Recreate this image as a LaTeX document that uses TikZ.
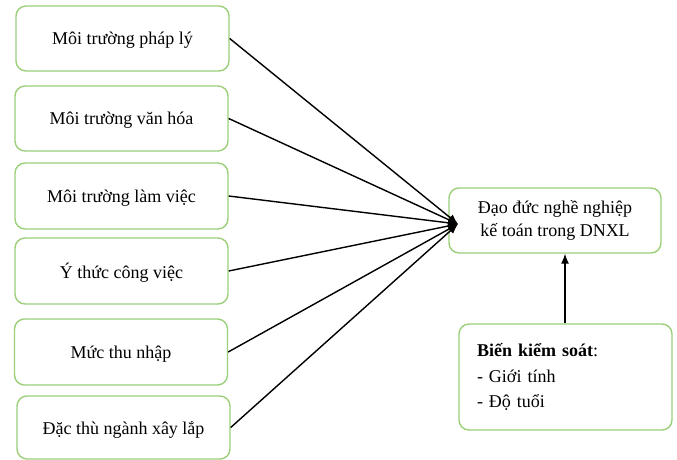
\documentclass[tikz,border=0pt]{standalone}
\usepackage{fontspec}
\setmainfont{Liberation Serif}
\usetikzlibrary{arrows.meta}
\definecolor{boxgreen}{HTML}{9BCF7A}
\begin{document}
\begin{tikzpicture}[x=1pt,y=-1pt,
  fbox/.style={draw=boxgreen, line width=1.4pt, rounded corners=10pt, fill=white,
    minimum width=213pt, inner sep=0pt, font=\fontsize{18}{21}\selectfont},
  sbox/.style={fbox, text depth=0pt},
  conn/.style={line width=1.4pt, -{Latex[length=10pt,width=8pt]}}]
\useasboundingbox (0,0) rectangle (677,460);
\node[sbox, minimum height=65pt] (b1) at (122.5,38.5) {Môi trường pháp lý};
\node[sbox, minimum height=65pt] (b2) at (121.5,118.5) {Môi trường văn hóa};
\node[sbox, minimum height=66pt] (b3) at (121.5,196) {Môi trường làm việc};
\node[sbox, minimum height=66pt] (b4) at (121.5,271) {Ý thức công việc};
\node[sbox, minimum height=66pt] (b5) at (121,352) {Mức thu nhập};
\node[sbox, minimum height=63pt] (b6) at (123.5,427.5) {Đặc thù ngành xây lắp};
\node[fbox, minimum height=65pt, minimum width=212pt, align=center, font=\fontsize{18}{23}\selectfont] (t) at (555,220.5) {Đạo đức nghề nghiệp\\kế toán trong DNXL};
\node[fbox, minimum height=106pt, align=left, text width=177pt, font=\fontsize{18}{25.5}\selectfont] (c) at (565.5,377) {\textbf{Biến kiểm soát}:\\- Giới tính\\- Độ tuổi};
\coordinate (tip) at (458,224);
\foreach \b in {b1,b2,b3,b4,b5,b6} \draw[conn] (\b.east) -- (tip);
\draw[conn] (c.north -| 565,0) -- (t.south -| 565,0);
\end{tikzpicture}
\end{document}
